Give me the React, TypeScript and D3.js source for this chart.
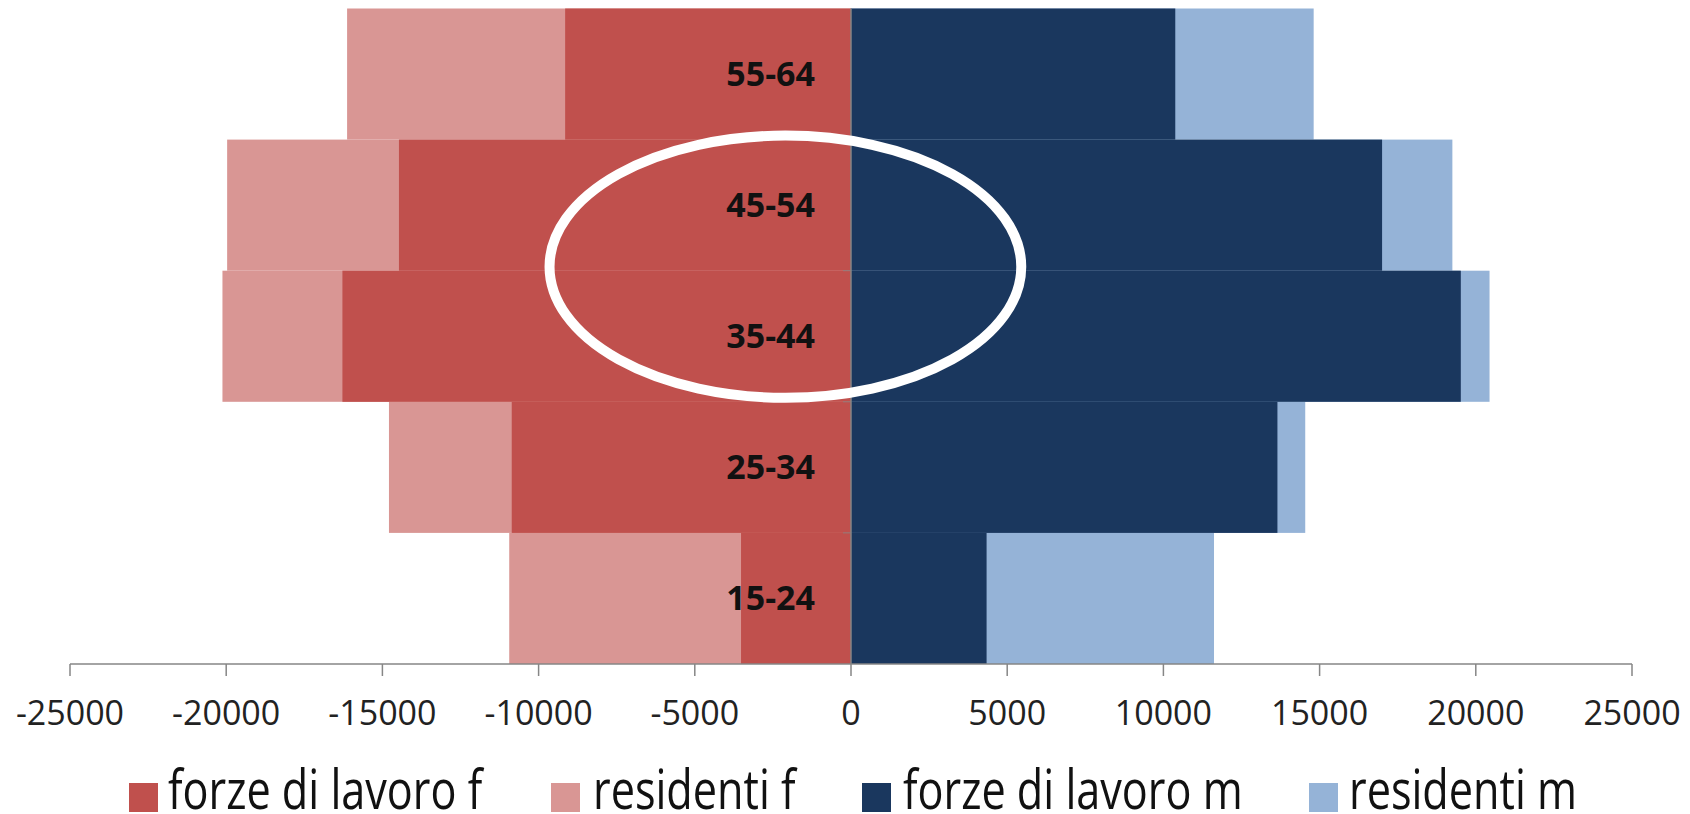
import React from 'react';
import * as d3 from 'd3';

// fasce d'eta, dall'alto in basso
const ageGroups = ['55-64', '45-54', '35-44', '25-34', '15-24'];

// valori (femmine a sinistra, maschi a destra)
const laborF = [9150, 14470, 16280, 10860, 3520];
const residentsF = [16130, 19970, 20120, 14790, 10940];
const laborM = [10380, 17000, 19520, 13650, 4340];
const residentsM = [14810, 19250, 20440, 14540, 11620];

const xTicks = [-25000, -20000, -15000, -10000, -5000, 0, 5000, 10000, 15000, 20000, 25000];

const legendItems = [
  { label: 'forze di lavoro f', color: '#C0504D' },
  { label: 'residenti f', color: '#D99694' },
  { label: 'forze di lavoro m', color: '#1A375E' },
  { label: 'residenti m', color: '#95B3D7' },
];

const W = 1690;
const H = 814;

const App: React.FC = () => {
  const x = d3.scaleLinear().domain([-25000, 25000]).range([70, 1632]);
  const y = d3.scaleBand<string>().domain(ageGroups).range([8.5, 664]).padding(0);
  const bw = y.bandwidth();
  const axisY = 664;
  const axisColor = '#868686';

  const series = [
    { values: residentsF, color: legendItems[1].color, sign: -1 },
    { values: residentsM, color: legendItems[3].color, sign: 1 },
    { values: laborF, color: legendItems[0].color, sign: -1 },
    { values: laborM, color: legendItems[2].color, sign: 1 },
  ];

  // posizioni legenda
  const legendSq = [129, 551, 862, 1309];
  const legendText = [168, 593, 903, 1349];

  // ellisse di evidenziazione (35-54)
  const ellCx = x(-2100);
  const ellCy = (y('35-44') as number) - 4;
  const ellRx = x(7550) - x(0);
  const ellRy = bw;

  return (
    <svg
      width={W}
      height={H}
      style={{ position: 'absolute', left: 0, top: 0, background: '#fff' }}
    >
      <rect width={W} height={H} fill="#fff" />
      {series.map((s, si) => (
        <g key={si}>
          {s.values.map((v, i) => {
            const x0 = x(0);
            const x1 = x(s.sign * v);
            return (
              <rect
                key={i}
                x={Math.min(x0, x1)}
                y={y(ageGroups[i])}
                width={Math.abs(x1 - x0)}
                height={bw}
                fill={s.color}
              />
            );
          })}
        </g>
      ))}

      {/* asse verticale */}
      <line x1={x(0)} x2={x(0)} y1={8.5} y2={axisY} stroke={axisColor} strokeWidth={1.5} />
      {ageGroups.slice(1).map((g) => (
        <line
          key={g}
          x1={x(0) - 8}
          x2={x(0)}
          y1={y(g)}
          y2={y(g)}
          stroke={axisColor}
          strokeWidth={1}
          opacity={0.8}
        />
      ))}

      {/* etichette fasce */}
      {ageGroups.map((g) => (
        <text
          key={g}
          x={x(0) - 36}
          y={(y(g) as number) + bw / 2 + 12}
          textAnchor="end"
          fontFamily="'Open Sans', sans-serif"
          fontWeight={700}
          fontSize={34}
          fill="#111"
        >
          {g}
        </text>
      ))}

      {/* asse orizzontale */}
      <line x1={x(-25000)} x2={x(25000)} y1={axisY} y2={axisY} stroke={axisColor} strokeWidth={1.5} />
      {xTicks.map((t) => (
        <g key={t}>
          <line x1={x(t)} x2={x(t)} y1={axisY} y2={axisY + 12} stroke={axisColor} strokeWidth={1.5} />
          <text
            x={x(t)}
            y={725}
            textAnchor="middle"
            fontFamily="'Open Sans', sans-serif"
            fontSize={34}
            fill="#222"
          >
            {t}
          </text>
        </g>
      ))}

      {/* ellisse */}
      <ellipse
        cx={ellCx}
        cy={ellCy}
        rx={ellRx}
        ry={ellRy}
        fill="none"
        stroke="#fff"
        strokeWidth={10}
      />

      {/* legenda */}
      {legendItems.map((it, i) => (
        <g key={it.label}>
          <rect x={legendSq[i]} y={783} width={29} height={29} fill={it.color} />
          <text
            transform={`translate(${legendText[i]},809) scale(0.8,1)`}
            fontFamily="'Open Sans', sans-serif"
            fontSize={54}
            fill="#111"
          >
            {it.label}
          </text>
        </g>
      ))}
    </svg>
  );
};

export default App;
